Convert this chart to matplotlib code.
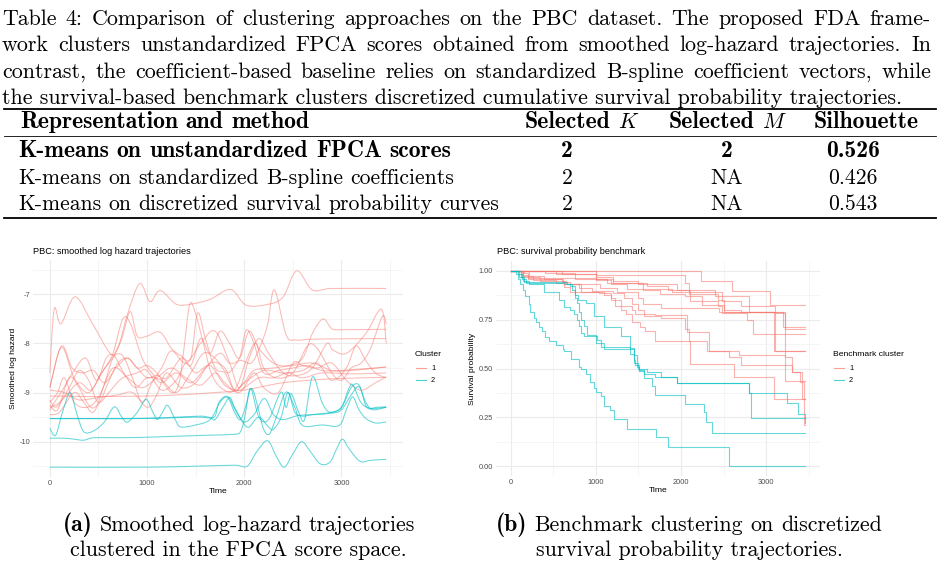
import numpy as np
import matplotlib.pyplot as plt
from matplotlib.lines import Line2D
from matplotlib.path import Path
from matplotlib.patches import PathPatch

plt.rcParams['mathtext.fontset'] = 'cm'
plt.rcParams['axes.unicode_minus'] = False
plt.rcParams['font.family'] = ['Liberation Sans', 'DejaVu Sans']

W, H = 942, 571
RED, CYAN = '#F8766D', '#00BFC4'

# ---------------- text data ----------------
caption_lines = [
    "Table 4: Comparison of clustering approaches on the PBC dataset. The proposed FDA frame-",
    "work clusters unstandardized FPCA scores obtained from smoothed log-hazard trajectories. In",
    "contrast, the coefficient-based baseline relies on standardized B-spline coefficient vectors, while",
    "the survival-based benchmark clusters discretized cumulative survival probability trajectories.",
]
methods = ["K-means on unstandardized FPCA scores",
           "K-means on standardized B-spline coefficients",
           "K-means on discretized survival probability curves"]
selected_k = ["2", "2", "2"]
selected_m = ["2", "NA", "NA"]
silhouette = ["0.526", "0.426", "0.543"]

# ---------------- panel (a): smoothed log hazard (time, value) ----------------
hazard_cluster1 = [
    [(0,-8.6),(45,-7.3),(115,-7.6),(260,-7.05),(440,-7.6),(620,-8.2),(700,-8.1),(800,-7.4),(925,-6.78),
     (1030,-7.15),(1135,-6.92),(1300,-7.2),(1450,-7.2),(1650,-7.1),(1860,-6.9),(2020,-7.22),(2250,-7.2),
     (2400,-7.05),(2540,-6.52),(2700,-6.91),(2900,-6.88),(3460,-6.88)],
    [(0,-9.35),(80,-9.1),(130,-8.95),(250,-8.55),(370,-8.3),(480,-8.75),(580,-8.3),(660,-8.25),(760,-8.6),
     (880,-8.9),(1000,-8.7),(1150,-8.75),(1300,-9.0),(1450,-8.6),(1580,-8.2),(1700,-8.3),(1830,-8.6),
     (1950,-8.35),(2070,-8.4),(2155,-8.1),(2240,-7.62),(2310,-6.91),(2430,-7.82),(2530,-7.93),(2750,-7.91),
     (3460,-7.9)],
    [(0,-9.15),(60,-9.3),(150,-9.1),(300,-8.8),(420,-8.95),(530,-8.6),(640,-8.3),(740,-7.9),(826,-7.35),
     (900,-7.85),(1000,-7.85),(1134,-7.77),(1250,-8.1),(1350,-8.25),(1450,-8.3),(1520,-7.38),
     (1600,-7.9),(1700,-8.5),(1800,-8.6),(1900,-8.95),(2000,-8.8),(2100,-8.55),(2300,-8.5),(2500,-8.45),
     (2700,-8.4),(2900,-8.55),(3100,-8.55),(3460,-8.48)],
    [(0,-9.07),(300,-9.08),(600,-9.08),(1000,-9.07),(1300,-9.05),(1700,-9.0),(2000,-8.95),(2400,-8.8),
     (2900,-8.72),(3460,-8.69)],
    [(0,-8.9),(120,-8.05),(230,-8.5),(340,-8.6),(450,-8.55),(560,-8.8),(680,-8.5),(800,-8.3),(900,-8.5),
     (1000,-8.45),(1100,-8.6),(1250,-9.0),(1330,-8.8),(1380,-8.1),(1440,-7.2),(1500,-7.4),(1580,-8.0),
     (1660,-8.6),(1760,-8.9),(1900,-8.95),(2030,-8.3),(2120,-8.0),(2200,-8.5),(2330,-8.7),(2500,-8.6),
     (2650,-8.05),(2750,-8.1),(2900,-8.6),(3000,-8.75),(3100,-8.5),(3200,-8.4),(3300,-8.1),(3420,-7.45),
     (3460,-7.6)],
    [(0,-9.3),(100,-9.2),(200,-8.9),(300,-8.55),(400,-8.75),(500,-9.2),(600,-8.8),(700,-8.4),(800,-8.3),
     (900,-8.5),(1000,-8.7),(1100,-8.65),(1200,-8.7),(1350,-8.3),(1450,-8.45),(1550,-7.9),(1650,-8.2),
     (1750,-7.75),(1850,-8.0),(1950,-8.3),(2050,-7.75),(2150,-8.1),(2300,-8.4),(2450,-8.45),(2600,-8.3),
     (2700,-7.8),(2810,-7.5),(2900,-7.7),(3000,-7.72),(3460,-7.71)],
    [(0,-9.45),(100,-9.4),(250,-9.0),(350,-9.2),(450,-9.4),(550,-8.9),(650,-8.3),(750,-8.25),(850,-8.7),
     (950,-9.2),(1050,-8.8),(1150,-8.5),(1250,-8.15),(1400,-8.4),(1550,-8.0),(1700,-7.75),(1850,-8.4),
     (1950,-8.9),(2050,-8.3),(2150,-7.9),(2250,-8.2),(2400,-8.6),(2550,-8.65),(2700,-8.5),(2850,-8.0),
     (2910,-8.13),(3050,-8.2),(3250,-7.8),(3410,-7.3),(3460,-8.0)],
    [(0,-9.2),(80,-9.0),(150,-8.7),(250,-9.2),(380,-9.3),(500,-9.1),(650,-8.5),(800,-8.7),(950,-8.9),
     (1100,-8.7),(1250,-8.5),(1400,-8.7),(1550,-8.85),(1700,-8.6),(1800,-8.8),(1950,-9.0),(2100,-8.6),
     (2200,-8.9),(2350,-9.0),(2500,-8.4),(2600,-8.45),(2750,-8.5),(2900,-8.4),(3050,-8.75),(3200,-8.95),
     (3350,-8.8),(3460,-8.68)],
    [(0,-8.9),(120,-8.08),(250,-8.7),(400,-9.0),(550,-8.55),(650,-8.2),(750,-7.5),(830,-7.6),(950,-8.3),
     (1050,-8.6),(1150,-8.8),(1300,-8.6),(1450,-8.8),(1600,-8.5),(1750,-8.2),(1850,-8.4),(1950,-8.3),
     (2020,-7.73),(2100,-8.0),(2200,-8.6),(2350,-8.55),(2500,-8.5),(2650,-8.45),(2800,-8.55),(3000,-8.55),
     (3460,-8.48)],
    [(0,-9.25),(80,-9.35),(200,-8.7),(300,-8.9),(420,-9.3),(520,-9.2),(650,-8.9),(750,-8.7),(900,-8.6),
     (1000,-8.55),(1150,-8.95),(1300,-8.75),(1400,-8.4),(1500,-8.6),(1650,-8.45),(1800,-8.85),(1950,-8.95),
     (2150,-8.7),(2300,-8.7),(2450,-8.6),(2600,-8.7),(2800,-8.6),(3100,-8.62),(3460,-8.6)],
    [(0,-8.95),(150,-9.0),(300,-9.15),(500,-9.1),(700,-9.05),(850,-9.0),(1000,-9.3),(1100,-9.05),(1200,-8.6),
     (1350,-8.9),(1500,-8.8),(1650,-8.4),(1800,-8.5),(1900,-8.95),(2000,-8.8),(2200,-8.55),(2400,-8.6),
     (2600,-8.55),(2750,-8.4),(2900,-8.75),(3050,-8.5),(3150,-8.05),(3250,-8.35),(3350,-8.6),(3460,-8.7)],
]
hazard_cluster2 = [
    [(0,-10.52),(1000,-10.52),(1500,-10.5),(1900,-10.48),(2030,-10.5),(2130,-10.2),(2240,-9.98),(2330,-10.3),
     (2410,-10.52),(2500,-10.25),(2590,-10.0),(2680,-10.2),(2780,-10.45),(2880,-10.42),(2950,-10.15),
     (3010,-9.95),(3080,-10.15),(3190,-10.4),(3300,-10.38),(3460,-10.36)],
    [(0,-9.93),(150,-9.93),(250,-9.95),(350,-9.97),(450,-9.92),(700,-9.92),(1000,-9.91),(1300,-9.89),
     (1600,-9.87),(1900,-9.85),(1960,-9.8),(2000,-9.55),(2050,-9.0),(2090,-8.95),(2140,-9.3),(2200,-9.75),
     (2260,-9.84),(2330,-9.5),(2430,-8.99),(2520,-9.3),(2600,-9.67),(2800,-9.66),(2977,-9.67),(3050,-9.35),
     (3115,-9.09),(3180,-9.35),(3252,-9.53),(3350,-9.62),(3460,-9.6)],
    [(0,-9.53),(400,-9.53),(800,-9.53),(1200,-9.51),(1550,-9.48),(1690,-9.5),(1740,-9.2),(1830,-9.08),
     (1920,-9.4),(2000,-9.6),(2100,-9.45),(2206,-9.12),(2300,-9.45),(2400,-9.55),(2550,-9.47),(2700,-9.45),
     (2900,-9.42),(3000,-9.35),(3100,-9.05),(3180,-8.88),(3250,-9.2),(3320,-9.35),(3460,-9.3)],
    [(0,-9.73),(60,-9.87),(130,-9.4),(210,-9.0),(280,-9.45),(350,-9.8),(450,-9.78),(560,-9.6),(664,-9.29),
     (740,-9.5),(800,-9.6),(900,-9.4),(990,-9.14),(1060,-9.4),(1106,-9.55),(1160,-9.4),(1212,-9.26),
     (1290,-9.55),(1346,-9.7),(1500,-9.66),(1650,-9.55),(1750,-9.2),(1829,-9.1),(1900,-9.4),(1960,-9.55),
     (2020,-9.25),(2069,-8.92),(2150,-9.5),(2250,-9.55),(2377,-8.99),(2430,-9.3),(2480,-9.02),(2560,-9.4),
     (2620,-9.55),(2702,-8.68),(2800,-9.2),(2880,-9.4),(3000,-9.3),(3100,-8.9),(3182,-8.85),(3260,-9.3),
     (3360,-9.3),(3460,-9.29)],
    [(0,-9.53),(600,-9.53),(900,-9.53),(1200,-9.52),(1500,-9.5),(1650,-9.52),(1700,-9.55),(1780,-9.3),
     (1850,-9.1),(1900,-9.3),(1990,-9.62),(2050,-9.7),(2150,-9.5),(2250,-9.7),(2300,-9.75),(2380,-9.5),
     (2450,-9.0),(2520,-9.4),(2600,-9.48),(2700,-9.45),(2900,-9.4),(3000,-9.3),(3080,-8.9),(3120,-8.85),
     (3200,-9.2),(3300,-9.32),(3460,-9.3)],
]

# ---------------- panel (b): survival step curves (time, survival) ----------------
surv_cluster1 = [
    [(0,1.0),(2240,0.95),(2600,0.895),(3050,0.825),(3460,0.825)],
    [(0,1.0),(1000,0.978),(2050,0.935),(2090,0.896),(2110,0.845),(2250,0.825),(2500,0.79),(3200,0.714),(3460,0.714)],
    [(0,1.0),(530,0.982),(1000,0.96),(1130,0.935),(1550,0.90),(1750,0.88),(2050,0.87),(2250,0.845),(2430,0.82),
     (2480,0.786),(2780,0.748),(2850,0.675),(3460,0.675)],
    [(0,1.0),(150,0.98),(200,0.96),(600,0.945),(700,0.93),(1050,0.91),(1250,0.89),(1500,0.86),(1550,0.83),
     (1770,0.81),(2450,0.79),(3090,0.589),(3460,0.589)],
    [(0,1.0),(220,0.975),(260,0.955),(530,0.94),(620,0.915),(700,0.89),(1100,0.875),(1180,0.85),(1300,0.82),
     (1420,0.80),(1460,0.78),(1700,0.773),(2070,0.688),(2330,0.589),(2680,0.569),(3220,0.518),(3300,0.484),
     (3400,0.43),(3440,0.21),(3460,0.21)],
    [(0,1.0),(150,0.97),(340,0.95),(620,0.93),(820,0.89),(1040,0.885),(1180,0.86),(1230,0.82),(1290,0.80),
     (1350,0.78),(1420,0.74),(1520,0.71),(1580,0.69),(1700,0.64),(2090,0.64),(2110,0.525),(2620,0.455),
     (3090,0.344),(3460,0.344)],
    [(0,1.0),(130,0.975),(390,0.96),(610,0.95),(650,0.93),(800,0.91),(950,0.895),(1200,0.885),(1330,0.86),
     (1420,0.83),(1500,0.80),(1570,0.77),(1760,0.76),(2050,0.70),(2090,0.64),(2300,0.59),(2560,0.56),
     (2700,0.52),(3220,0.434),(3460,0.434)],
    [(0,1.0),(400,0.99),(750,0.96),(1200,0.94),(1600,0.92),(1850,0.90),(2100,0.88),(2440,0.85),(2500,0.80),
     (2700,0.79),(3220,0.56),(3300,0.48),(3420,0.345),(3460,0.345)],
    [(0,1.0),(160,0.99),(200,0.965),(1000,0.955),(1180,0.93),(1370,0.905),(1900,0.89),(2480,0.845),
     (2700,0.82),(3100,0.786),(3220,0.70),(3460,0.70)],
    [(0,1.0),(600,0.985),(1000,0.97),(1200,0.95),(1500,0.93),(1950,0.90),(2400,0.87),(2800,0.79),
     (3100,0.59),(3460,0.59)],
]
surv_cluster2 = [
    [(0,1.0),(80,0.96),(110,0.93),(140,0.90),(170,0.87),(220,0.83),(230,0.79),(270,0.76),(300,0.74),
     (330,0.71),(370,0.69),(400,0.66),(450,0.64),(530,0.62),(610,0.60),(630,0.59),(710,0.55),(800,0.51),
     (830,0.50),(880,0.47),(930,0.43),(980,0.40),(1000,0.38),(1060,0.36),(1100,0.31),(1170,0.29),
     (1210,0.24),(1370,0.19),(1710,0.15),(1850,0.10),(2560,0.0),(3460,0.0)],
    [(0,1.0),(120,0.97),(160,0.945),(660,0.93),(720,0.90),(760,0.875),(790,0.85),(880,0.835),(980,0.77),
     (1095,0.71),(1290,0.665),(1405,0.605),(1445,0.545),(1465,0.52),(1505,0.485),(1565,0.47),(1700,0.455),
     (1955,0.425),(2795,0.375),(3240,0.325),(3380,0.265),(3455,0.22),(3460,0.22)],
    [(0,1.0),(100,0.97),(140,0.95),(220,0.93),(390,0.89),(565,0.85),(625,0.815),(700,0.80),(740,0.78),
     (780,0.75),(800,0.715),(820,0.68),(860,0.665),(1015,0.645),(1055,0.61),(1405,0.60),(1445,0.57),
     (1485,0.51),(1505,0.49),(1560,0.45),(1660,0.41),(1700,0.365),(2050,0.32),(2265,0.275),(2295,0.225),
     (2370,0.17),(3460,0.17)],
    [(0,1.0),(60,0.985),(130,0.96),(180,0.94),(320,0.935),(640,0.93),(700,0.92),(760,0.86),(780,0.835),
     (800,0.79),(830,0.75),(860,0.72),(900,0.67),(1000,0.63),(1100,0.60),(1300,0.60),(1400,0.575),
     (1450,0.53),(1500,0.50),(1600,0.48),(1760,0.455),(1955,0.425),(2795,0.375),(2825,0.245),(3460,0.245)],
]

fig = plt.figure(figsize=(W / 100, H / 100), dpi=100)
rend = fig.canvas.get_renderer()

def fx(x):
    return x / W

def fy(y):
    return 1 - y / H

CAP_FS = 15.8      # caption / sub-caption size
TAB_FS = 15.6      # table regular
BOLD_FS = 17.0     # cmb10 is narrower than LaTeX bold extended

def text_width(t):
    return t.get_window_extent(rend).width

def put_words(parts, x, y, ha='left', width=None, fs=CAP_FS):
    # parts: list of (string, family, size); laid out left to right with word gaps
    objs = [fig.text(0, fy(y), s, fontsize=f, family=fam, va='baseline') for s, fam, f in parts]
    ws = [text_width(t) for t in objs]
    gap = fs * 100 / 72 * 0.333
    if width is not None and len(parts) > 1:
        gap = (width - sum(ws)) / (len(parts) - 1)
    total = sum(ws) + gap * (len(parts) - 1)
    start = {'left': x, 'center': x - total / 2, 'right': x - total}[ha]
    for t, w in zip(objs, ws):
        t.set_x(fx(start))
        start += w + gap

def words(s, fam, fs):
    return [(w, fam, fs) for w in s.split(' ')]

def hrule(y, x0, x1, lw):
    fig.add_artist(Line2D([fx(x0), fx(x1)], [fy(y), fy(y)], color='black', lw=lw, transform=fig.transFigure))

# caption (first three lines justified like LaTeX)
base = [25, 51, 77.5, 104]
for i, line in enumerate(caption_lines):
    if i < 3:
        put_words(words(line, 'cmr10', CAP_FS), 2, base[i], width=929)
    else:
        fig.text(fx(2), fy(base[i]), line, fontsize=CAP_FS, family='cmr10', va='baseline')

# table
hrule(109, 4, 936, 1.3)
hrule(136, 4, 936, 0.6)
hrule(218, 4, 936, 1.3)
put_words(words("Representation and method", 'cmb10', BOLD_FS), 20, 128, fs=BOLD_FS)
put_words([("Selected", 'cmb10', BOLD_FS), ("$K$", 'cmr10', TAB_FS)], 582, 128, ha='center', fs=BOLD_FS)
put_words([("Selected", 'cmb10', BOLD_FS), ("$M$", 'cmr10', TAB_FS)], 728, 128, ha='center', fs=BOLD_FS)
put_words([("Silhouette", 'cmb10', BOLD_FS)], 866, 128, ha='center')
row_base = [157, 184, 210]
for i in range(3):
    fam, fs = ('cmb10', BOLD_FS) if i == 0 else ('cmr10', TAB_FS)
    put_words(words(methods[i], fam, fs), 18, row_base[i], fs=fs)
    put_words([(selected_k[i], fam, fs)], 567, row_base[i], ha='center')
    put_words([(selected_m[i], fam, fs)], 727, row_base[i], ha='center')
    put_words([(silhouette[i], fam, fs)], 853, row_base[i], ha='center')

# sub-captions
put_words([("(a)", 'cmb10', BOLD_FS)] + words("Smoothed log-hazard trajectories", 'cmr10', CAP_FS),
          239, 531, ha='center')
put_words([("clustered in the FPCA score space.", 'cmr10', CAP_FS)], 238, 556, ha='center')
put_words([("(b)", 'cmb10', BOLD_FS)] + words("Benchmark clustering on discretized", 'cmr10', CAP_FS),
          689, 531, ha='center')
put_words([("survival probability trajectories.", 'cmr10', CAP_FS)], 689, 556, ha='center')

TICK_FS, AX_FS, TITLE_FS = 5.3, 6.1, 6.6

def style_axes(ax):
    for s in ax.spines.values():
        s.set_visible(False)
    ax.set_facecolor('white')
    ax.grid(True, which='major', color='#EBEBEB', lw=0.8)
    ax.grid(True, which='minor', color='#F2F2F2', lw=0.5)
    ax.set_axisbelow(True)
    ax.tick_params(which='both', length=0, labelsize=TICK_FS, labelcolor='#4D4D4D', pad=2)
    ax.set_xticks([0, 1000, 2000, 3000])
    ax.set_xticks([500, 1500, 2500, 3500], minor=True)
    ax.set_xlim(-173, 3633)
    ax.set_xlabel("Time", fontsize=AX_FS, labelpad=1)

def legend(x, title, y=355):
    fig.text(fx(x), fy(y), title, fontsize=AX_FS, va='center')
    for lab, col, yy in [("1", RED, 368), ("2", CYAN, 380)]:
        fig.add_artist(Line2D([fx(x + 1), fx(x + 11)], [fy(yy), fy(yy)], color=col, lw=0.8, alpha=0.7,
                              transform=fig.transFigure))
        fig.text(fx(x + 16), fy(yy), lab, fontsize=TICK_FS, va='center')

def smooth_curve(ax, pts, **kw):
    # Catmull-Rom spline through the knots, drawn as a cubic Bezier path in data space
    P = np.asarray(pts, float)
    Q = np.vstack([P[0], P, P[-1]])
    verts, codes = [P[0]], [Path.MOVETO]
    for i in range(1, len(Q) - 2):
        c1 = Q[i] + (Q[i + 1] - Q[i - 1]) / 6
        c2 = Q[i + 1] - (Q[i + 2] - Q[i]) / 6
        verts += [c1, c2, Q[i + 1]]
        codes += [Path.CURVE4] * 3
    ax.add_patch(PathPatch(Path(verts, codes), fill=False, **kw))

# panel (a)
ax1 = fig.add_axes([fx(33), fy(477), 370 / W, 217 / H])
style_axes(ax1)
for curve in hazard_cluster1:
    smooth_curve(ax1, curve, edgecolor=RED, lw=0.75, alpha=0.5)
for curve in hazard_cluster2:
    smooth_curve(ax1, curve, edgecolor=CYAN, lw=0.75, alpha=0.6)
ax1.set_ylim(-10.72, -6.30)
ax1.set_yticks([-10, -9, -8, -7])
ax1.set_yticks([-10.5, -9.5, -8.5, -7.5, -6.5], minor=True)
ax1.set_ylabel("Smoothed log hazard", fontsize=AX_FS, labelpad=2)
fig.text(fx(33), fy(252), "PBC: smoothed log hazard trajectories", fontsize=TITLE_FS, va='center')
legend(415, "Cluster")

# panel (b)
ax2 = fig.add_axes([fx(496), fy(476), 324 / W, 215 / H])
style_axes(ax2)
for curve in surv_cluster1:
    t, s = zip(*curve)
    ax2.plot(t, s, color=RED, lw=0.8, alpha=0.55, drawstyle='steps-post')
for curve in surv_cluster2:
    t, s = zip(*curve)
    ax2.plot(t, s, color=CYAN, lw=0.8, alpha=0.6, drawstyle='steps-post')
ax2.set_xlim(-173, 3633)
ax2.set_ylim(-0.05, 1.05)
ax2.set_yticks([0, 0.25, 0.5, 0.75, 1.0])
ax2.set_yticklabels(["0.00", "0.25", "0.50", "0.75", "1.00"])
ax2.set_yticks([0.125, 0.375, 0.625, 0.875], minor=True)
ax2.set_ylabel("Survival probability", fontsize=AX_FS, labelpad=2)
fig.text(fx(497), fy(252), "PBC: survival probability benchmark", fontsize=TITLE_FS, va='center')
legend(833, "Benchmark cluster")

fig.savefig("out.png", dpi=100, facecolor='white')
